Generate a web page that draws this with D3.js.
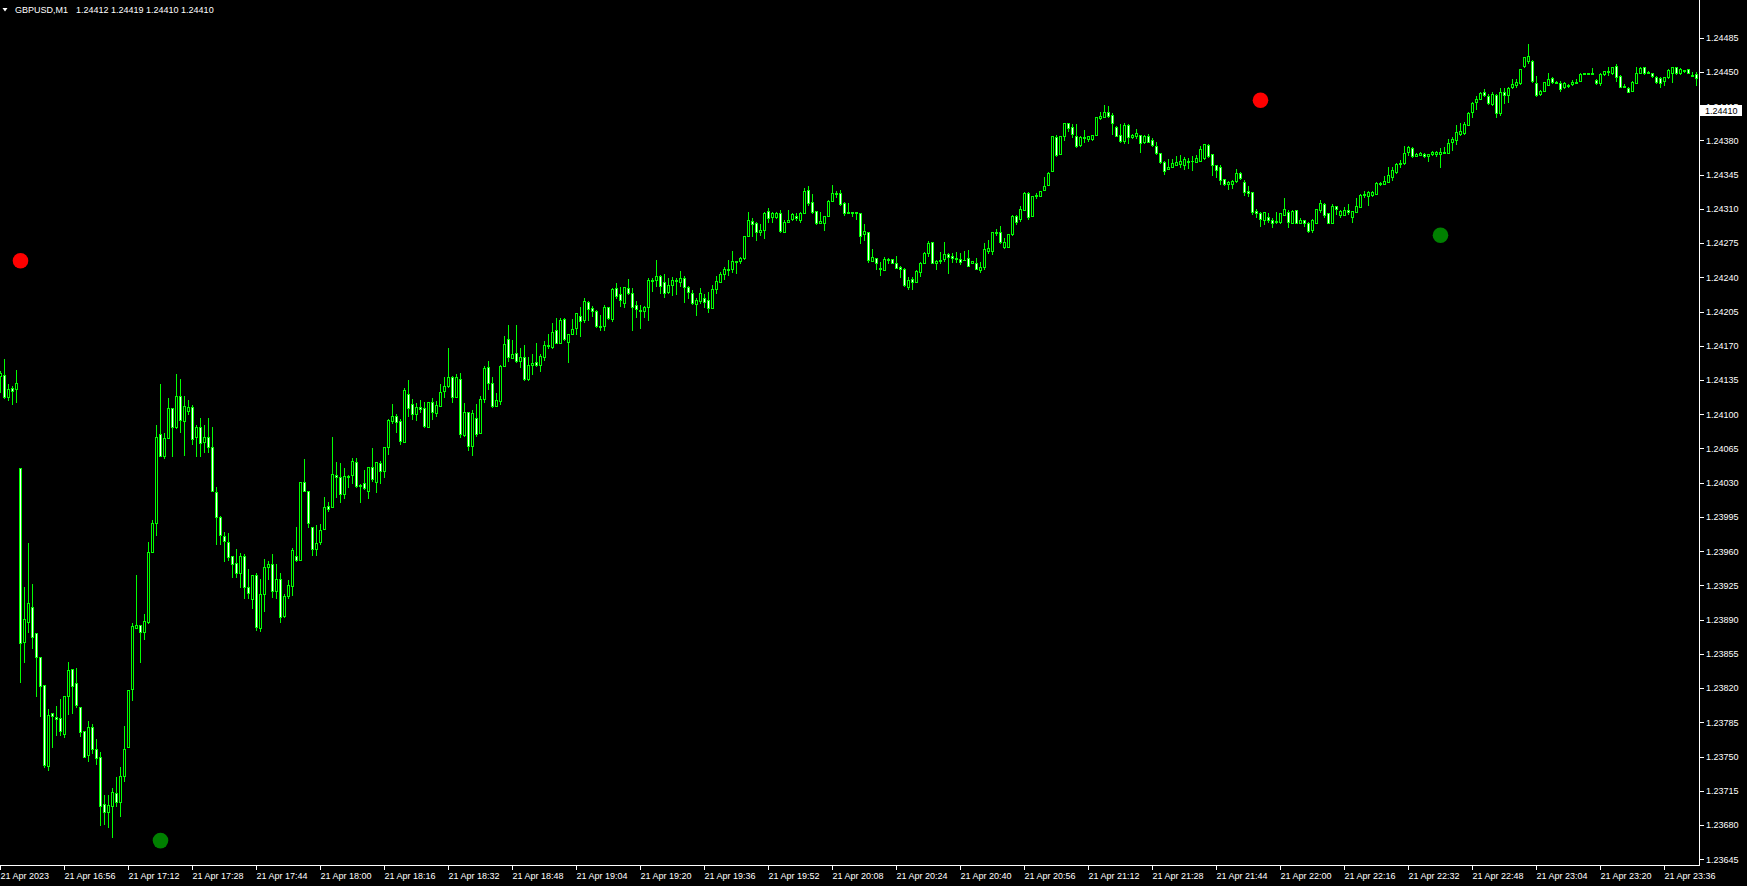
<!DOCTYPE html>
<html><head><meta charset="utf-8">
<script src="https://cdn.jsdelivr.net/npm/d3@7"></script>
<style>
html,body{margin:0;padding:0;background:#000;overflow:hidden}
svg{display:block}
text{font-family:"Liberation Sans",Arial,sans-serif}
</style></head><body>
<svg id="c" width="1747" height="886"></svg>
<script>
// ---------- data ----------
const symbolLabel = "GBPUSD,M1";
const lastBarOHLC = [1.24412, 1.24419, 1.24410, 1.24410];
const bidPrice = 1.24410;
const priceTicks = [1.24485,1.24450,1.24415,1.24380,1.24345,1.24310,1.24275,1.24240,1.24205,1.24170,1.24135,1.24100,1.24065,1.24030,1.23995,1.23960,1.23925,1.23890,1.23855,1.23820,1.23785,1.23750,1.23715,1.23680,1.23645];
const timeTickBars = [0,16,32,48,64,80,96,112,128,144,160,176,192,208,224,240,256,272,288,304,320,336,352,368,384,400,416];
const timeLabels = ["21 Apr 2023","21 Apr 16:56","21 Apr 17:12","21 Apr 17:28","21 Apr 17:44","21 Apr 18:00","21 Apr 18:16","21 Apr 18:32","21 Apr 18:48","21 Apr 19:04","21 Apr 19:20","21 Apr 19:36","21 Apr 19:52","21 Apr 20:08","21 Apr 20:24","21 Apr 20:40","21 Apr 20:56","21 Apr 21:12","21 Apr 21:28","21 Apr 21:44","21 Apr 22:00","21 Apr 22:16","21 Apr 22:32","21 Apr 22:48","21 Apr 23:04","21 Apr 23:20","21 Apr 23:36"];
// signal markers (bar index, price, type)
const signalBars = [5, 40, 315, 360];
const signalPrices = [1.24257, 1.23664, 1.24421, 1.24283];
const signalTypes = ["sell", "buy", "sell", "buy"];
// M1 candles from 21 Apr 16:40, prices in points (1e-5)
const openPts = [124139,124140,124118,124127,124126,124045,123867,123888,123903,123876,
123852,123823,123740,123794,123790,123789,123773,123812,123839,123825,
123801,123776,123752,123780,123758,123749,123701,123693,123699,123713,
123703,123730,123760,123819,123881,123884,123877,123888,123959,123989,
124080,124057,124076,124106,124087,124119,124093,124103,124107,124077,
124087,124072,124077,124066,124020,123995,123975,123969,123955,123948,
123938,123955,123923,123911,123936,123881,123916,123944,123947,123919,
123931,123894,123914,123924,123955,123951,124031,124022,123985,123962,
123969,123983,124006,124005,124038,124036,124018,124037,124038,124051,
124027,124030,124021,124046,124031,124050,124042,124066,124093,124098,
124093,124072,124121,124110,124100,124107,124106,124087,124112,124101,
124108,124124,124129,124138,124118,124136,124079,124102,124067,124096,
124081,124116,124148,124132,124108,124114,124149,124177,124157,124163,
124154,124159,124136,124150,124153,124150,124159,124170,124169,124186,
124173,124197,124174,124182,124188,124200,124196,124215,124209,124206,
124190,124190,124210,124197,124229,124223,124214,124229,124224,124212,
124207,124206,124210,124237,124237,124241,124235,124225,124232,124237,
124235,124239,124230,124224,124213,124216,124219,124217,124209,124228,
124235,124243,124248,124248,124257,124257,124260,124282,124298,124296,
124286,124288,124308,124302,124302,124306,124286,124297,124300,124303,
124299,124306,124329,124317,124308,124296,124296,124303,124318,124326,
124326,124316,124307,124307,124306,124306,124284,124286,124257,124260,
124250,124247,124259,124259,124255,124251,124249,124230,124238,124235,
124245,124255,124265,124276,124255,124258,124259,124264,124262,124260,
124259,124258,124260,124255,124255,124247,124251,124267,124267,124286,
124286,124271,124271,124284,124303,124300,124309,124326,124303,124323,
124323,124329,124334,124349,124383,124366,124384,124398,124394,124384,
124375,124382,124381,124381,124385,124403,124404,124409,124406,124394,
124385,124379,124396,124383,124384,124386,124378,124384,124380,124374,
124367,124358,124351,124353,124355,124356,124355,124358,124359,124358,
124359,124362,124375,124366,124355,124353,124341,124335,124335,124338,
124347,124337,124328,124327,124308,124306,124299,124302,124299,124297,
124297,124304,124307,124296,124309,124296,124299,124296,124288,124296,
124309,124315,124306,124296,124313,124304,124304,124309,124302,124307,
124312,124324,124323,124324,124325,124336,124335,124337,124343,124348,
124356,124357,124368,124372,124364,124365,124366,124364,124366,124366,
124366,124367,124367,124378,124380,124387,124388,124396,124409,124419,
124422,124429,124425,124417,124426,124408,124429,124426,124435,124437,
124439,124456,124461,124461,124439,124427,124430,124437,124444,124440,
124439,124435,124437,124438,124439,124441,124448,124449,124448,124442,
124439,124448,124451,124449,124456,124446,124436,124434,124430,124439,
124449,124455,124450,124449,124445,124444,124441,124445,124449,124455,
124449,124451,124453,124447,124448];
const highPts = [124144,124156,124131,124129,124145,124045,123923,123968,123926,123876,
123852,123823,123799,123795,123802,123809,123812,123847,123839,123841,
123801,123776,123786,123783,123768,123755,123711,123711,123718,123729,
123739,123781,123818,123887,123936,123884,123896,123969,123992,124089,
124131,124081,124117,124106,124141,124136,124119,124115,124109,124089,
124096,124089,124096,124087,124026,123996,123980,123979,123955,123962,
123958,123957,123942,123936,123938,123932,123952,123950,123957,123947,
123938,123916,123930,123963,123985,124031,124054,124022,123985,123987,
123988,124015,124010,124077,124051,124050,124045,124038,124055,124055,
124029,124043,124046,124065,124051,124052,124066,124095,124110,124100,
124095,124127,124135,124116,124111,124115,124113,124112,124117,124114,
124131,124138,124168,124139,124141,124142,124111,124102,124104,124110,
124119,124149,124154,124138,124122,124150,124180,124191,124176,124191,
124168,124171,124158,124162,124173,124162,124175,124182,124193,124198,
124198,124198,124182,124197,124204,124210,124219,124216,124211,124207,
124201,124212,124210,124229,124234,124230,124230,124238,124229,124216,
124212,124211,124239,124239,124258,124242,124243,124239,124240,124239,
124246,124241,124231,124227,124219,124229,124223,124225,124232,124241,
124245,124251,124258,124267,124257,124261,124282,124307,124301,124297,
124294,124307,124311,124307,124307,124309,124299,124309,124306,124306,
124307,124331,124333,124325,124308,124307,124303,124319,124334,124328,
124329,124317,124316,124307,124307,124306,124295,124286,124269,124260,
124256,124261,124260,124259,124262,124252,124250,124240,124240,124247,
124256,124266,124277,124276,124258,124266,124276,124265,124265,124266,
124265,124267,124268,124257,124260,124256,124275,124278,124286,124289,
124292,124280,124284,124304,124304,124313,124327,124327,124323,124326,
124328,124343,124348,124384,124386,124384,124398,124398,124397,124397,
124384,124391,124384,124386,124404,124409,124416,124415,124408,124395,
124397,124398,124397,124387,124392,124386,124385,124387,124382,124378,
124367,124359,124361,124361,124364,124365,124363,124362,124364,124365,
124374,124376,124376,124366,124355,124355,124341,124338,124340,124351,
124348,124339,124333,124327,124310,124307,124307,124306,124301,124307,
124306,124321,124309,124309,124309,124301,124299,124297,124300,124310,
124319,124316,124306,124315,124313,124309,124312,124315,124308,124321,
124325,124328,124328,124328,124337,124337,124344,124353,124353,124357,
124360,124374,124374,124373,124367,124368,124367,124366,124369,124369,
124372,124373,124381,124383,124396,124398,124399,124409,124419,124425,
124429,124433,124427,124429,124427,124434,124434,124435,124443,124443,
124453,124465,124479,124462,124446,124432,124440,124449,124445,124441,
124441,124440,124438,124442,124443,124449,124449,124449,124454,124443,
124449,124451,124455,124455,124458,124447,124438,124435,124441,124455,
124455,124455,124451,124449,124446,124445,124445,124453,124455,124455,
124454,124452,124453,124450,124450];
const lowPts = [124123,124117,124115,124110,124113,123826,123847,123877,123861,123812,
123791,123739,123736,123760,123772,123772,123770,123793,123795,123801,
123771,123749,123745,123754,123742,123680,123681,123678,123668,123699,
123689,123725,123760,123808,123881,123847,123870,123887,123959,123976,
124057,124055,124076,124057,124086,124082,124058,124100,124070,124057,
124057,124061,124061,124022,123967,123967,123950,123951,123934,123934,
123923,123912,123912,123902,123879,123878,123899,123932,123913,123912,
123888,123893,123912,123915,123950,123951,124021,123985,123956,123956,
123967,123983,124001,124005,124015,124010,124014,124026,124030,124026,
124010,124024,124014,124032,124020,124030,124036,124059,124091,124082,
124070,124072,124098,124095,124094,124102,124087,124087,124095,124098,
124108,124118,124128,124113,124118,124077,124078,124063,124058,124078,
124081,124112,124126,124107,124108,124110,124149,124154,124157,124153,
124148,124135,124135,124141,124149,124144,124155,124168,124168,124173,
124173,124176,124153,124182,124182,124180,124194,124196,124200,124189,
124186,124186,124197,124195,124219,124211,124210,124223,124186,124199,
124188,124199,124196,124226,124231,124224,124220,124224,124222,124223,
124231,124215,124219,124213,124201,124214,124210,124205,124209,124224,
124235,124238,124242,124245,124244,124255,124259,124282,124282,124278,
124283,124280,124297,124297,124301,124286,124286,124297,124299,124299,
124297,124306,124314,124306,124294,124296,124288,124303,124318,124322,
124314,124304,124306,124303,124300,124275,124278,124256,124257,124248,
124242,124247,124255,124255,124250,124240,124231,124228,124228,124235,
124241,124255,124262,124255,124249,124255,124257,124244,124256,124256,
124254,124258,124252,124255,124248,124245,124249,124265,124264,124283,
124275,124270,124271,124283,124294,124298,124309,124300,124303,124321,
124323,124329,124334,124349,124364,124366,124380,124390,124383,124373,
124374,124378,124379,124380,124385,124402,124404,124404,124387,124384,
124378,124377,124377,124382,124382,124368,124377,124378,124374,124366,
124357,124346,124351,124353,124355,124353,124351,124352,124350,124358,
124359,124361,124363,124345,124343,124335,124334,124330,124331,124337,
124341,124324,124323,124305,124302,124292,124295,124297,124291,124296,
124296,124304,124291,124296,124296,124296,124292,124286,124286,124296,
124307,124302,124296,124296,124305,124302,124304,124305,124297,124307,
124312,124322,124314,124323,124325,124334,124335,124337,124339,124347,
124353,124356,124365,124363,124364,124365,124363,124359,124365,124364,
124353,124367,124367,124370,124376,124386,124387,124396,124404,124412,
124422,124425,124417,124416,124404,124406,124418,124419,124434,124435,
124438,124455,124459,124440,124425,124426,124430,124437,124439,124439,
124430,124434,124435,124437,124439,124441,124448,124448,124448,124438,
124437,124447,124447,124448,124441,124435,124435,124429,124430,124439,
124449,124448,124449,124445,124439,124435,124437,124444,124440,124448,
124448,124450,124449,124446,124437];
const closePts = [124142,124118,124126,124124,124132,123866,123891,123907,123872,123852,
123822,123741,123792,123791,123788,123776,123812,123838,123822,123803,
123775,123750,123780,123758,123748,123699,123693,123700,123714,123703,
123730,123758,123818,123883,123884,123877,123889,123959,123989,124077,
124057,124076,124106,124087,124119,124094,124108,124107,124075,124087,
124071,124077,124066,124022,123995,123976,123970,123954,123947,123938,
123955,123923,123917,123936,123882,123916,123944,123947,123919,123932,
123893,123914,123925,123961,123951,124031,124021,123989,123962,123968,
123982,124005,124003,124039,124036,124018,124037,124036,124052,124027,
124028,124025,124046,124034,124051,124042,124066,124094,124098,124092,
124073,124125,124106,124100,124107,124105,124088,124112,124102,124109,
124123,124129,124138,124118,124138,124080,124102,124067,124101,124080,
124116,124147,124132,124108,124115,124149,124172,124158,124162,124154,
124159,124136,124150,124152,124150,124160,124171,124171,124184,124173,
124196,124177,124182,124187,124203,124195,124216,124208,124206,124190,
124189,124210,124198,124228,124221,124217,124230,124224,124210,124208,
124206,124210,124237,124236,124241,124231,124224,124232,124237,124236,
124239,124230,124225,124214,124217,124224,124215,124209,124228,124236,
124243,124248,124247,124257,124256,124260,124282,124299,124295,124286,
124288,124306,124301,124306,124306,124287,124297,124299,124305,124301,
124306,124328,124316,124307,124296,124298,124303,124318,124326,124325,
124315,124306,124306,124306,124307,124282,124287,124258,124261,124255,
124248,124259,124258,124255,124250,124248,124232,124237,124235,124246,
124255,124265,124275,124255,124257,124257,124264,124261,124260,124259,
124256,124258,124252,124257,124249,124251,124269,124270,124286,124285,
124276,124276,124284,124303,124297,124310,124326,124302,124323,124324,
124328,124333,124347,124384,124365,124384,124398,124393,124387,124374,
124383,124383,124384,124385,124404,124405,124409,124405,124398,124384,
124379,124396,124383,124385,124388,124377,124384,124378,124375,124367,
124358,124349,124353,124357,124358,124359,124361,124359,124359,124362,
124371,124376,124364,124355,124350,124339,124335,124337,124338,124347,
124342,124327,124326,124307,124306,124300,124307,124299,124296,124298,
124306,124310,124297,124308,124296,124299,124296,124287,124299,124310,
124316,124304,124296,124313,124310,124308,124309,124307,124308,124313,
124324,124325,124327,124327,124336,124335,124338,124345,124350,124356,
124357,124367,124373,124364,124366,124367,124364,124366,124368,124368,
124368,124368,124377,124381,124389,124390,124397,124408,124418,124422,
124428,124426,124418,124427,124408,124429,124426,124434,124438,124440,
124453,124465,124466,124441,124426,124431,124440,124443,124440,124439,
124433,124439,124436,124440,124440,124448,124449,124448,124449,124439,
124448,124451,124450,124455,124445,124435,124435,124429,124440,124449,
124454,124449,124449,124446,124440,124439,124445,124452,124455,124449,
124453,124452,124449,124446,124444];

// ---------- chart ----------
const P = 1e5;
const candles = openPts.map((o, i) => ({i, o: o / P, h: highPts[i] / P, l: lowPts[i] / P, c: closePts[i] / P}));
const svg = d3.select("#c");
const plotW = 1699, plotH = 865;
const LIME = "#00ff00", WHITE = "#ffffff";

svg.append("rect").attr("width", 1747).attr("height", 886).attr("fill", "#000");

const x = d3.scaleLinear().domain([0, candles.length - 1]).range([0, 4 * (candles.length - 1)]);
const y = d3.scaleLinear().domain([priceTicks[priceTicks.length - 1], priceTicks[0]]).range([859.2, 37.7]);

svg.append("defs").append("clipPath").attr("id", "plot")
  .append("rect").attr("x", 0).attr("y", 0).attr("width", plotW).attr("height", plotH);

const g = svg.append("g").attr("clip-path", "url(#plot)").attr("shape-rendering", "crispEdges");

// wicks
g.selectAll("rect.wick").data(candles).join("rect").attr("class", "wick")
  .attr("x", d => x(d.i)).attr("width", 1)
  .attr("y", d => Math.round(y(d.h)))
  .attr("height", d => Math.round(y(d.l)) - Math.round(y(d.h)) + 1)
  .attr("fill", LIME);

// bodies (outline)
const bodyTop = d => Math.round(y(Math.max(d.o, d.c)));
const bodyBot = d => Math.round(y(Math.min(d.o, d.c)));
g.selectAll("rect.body").data(candles).join("rect").attr("class", "body")
  .attr("x", d => x(d.i) - 1).attr("width", 3)
  .attr("y", bodyTop)
  .attr("height", d => bodyBot(d) - bodyTop(d) + 1)
  .attr("fill", LIME);
// bodies (fill): bull black, bear white
g.selectAll("rect.fill").data(candles.filter(d => bodyBot(d) - bodyTop(d) >= 2)).join("rect").attr("class", "fill")
  .attr("x", d => x(d.i)).attr("width", 1)
  .attr("y", d => bodyTop(d) + 1)
  .attr("height", d => bodyBot(d) - bodyTop(d) - 1)
  .attr("fill", d => d.c >= d.o ? "#000" : WHITE);

// signal dots
const sig = signalBars.map((b, k) => ({b, p: signalPrices[k], t: signalTypes[k]}));
svg.append("g").attr("clip-path", "url(#plot)").selectAll("circle").data(sig).join("circle")
  .attr("cx", d => x(d.b) + 0.5).attr("cy", d => y(d.p)).attr("r", 7.8)
  .attr("fill", d => d.t === "sell" ? "#ff0000" : "#008000");

// frame
const fr = svg.append("g").attr("shape-rendering", "crispEdges");
fr.append("rect").attr("x", plotW).attr("y", 0).attr("width", 1).attr("height", plotH + 1).attr("fill", WHITE);
fr.append("rect").attr("x", 0).attr("y", plotH).attr("width", plotW + 1).attr("height", 1).attr("fill", WHITE);

// y axis
const gy = svg.append("g").attr("transform", `translate(${plotW + 1},0)`)
  .call(d3.axisRight(y).tickValues(priceTicks).tickFormat(d => d.toFixed(5)).tickSize(4).tickPadding(2));
gy.select(".domain").remove();
gy.selectAll(".tick line").attr("stroke", WHITE).attr("shape-rendering", "crispEdges");
gy.selectAll(".tick text").attr("fill", WHITE).style("font-size", "9px").style("font-family", '"Liberation Sans",Arial,sans-serif');

// x axis
const gx = svg.append("g").attr("transform", `translate(0,${plotH + 1})`)
  .call(d3.axisBottom(x).tickValues(timeTickBars).tickFormat((d, k) => timeLabels[k]).tickSize(4).tickPadding(3));
gx.select(".domain").remove();
gx.selectAll(".tick line").attr("stroke", WHITE).attr("shape-rendering", "crispEdges");
gx.selectAll(".tick text").attr("fill", WHITE).attr("text-anchor", "start").attr("x", 0)
  .style("font-size", "9px").style("font-family", '"Liberation Sans",Arial,sans-serif');

// bid price label
const yb = Math.round(y(bidPrice));
svg.append("rect").attr("x", plotW + 1).attr("y", yb - 6).attr("width", 42).attr("height", 11).attr("fill", WHITE);
svg.append("text").attr("x", plotW + 6).attr("y", yb).attr("dy", "0.32em").attr("fill", "#000")
  .style("font-size", "9px").text(bidPrice.toFixed(5));

// header
svg.append("path").attr("d", "M2.5,8 L7.5,8 L5,11.5 Z").attr("fill", WHITE);
svg.append("text").attr("x", 15).attr("y", 12.5).attr("fill", WHITE).style("font-size", "9px").text(symbolLabel);
svg.append("text").attr("x", 76).attr("y", 12.5).attr("fill", WHITE).style("font-size", "9px")
  .text(lastBarOHLC.map(v => v.toFixed(5)).join(" "));
</script>
</body></html>
